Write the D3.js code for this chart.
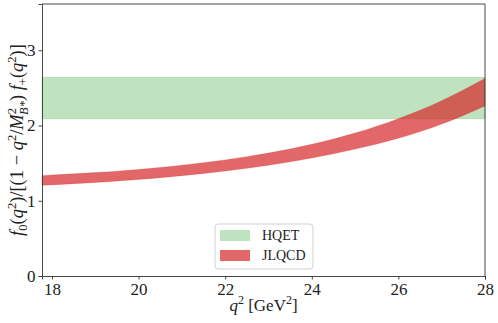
<!DOCTYPE html>
<html>
<head>
<meta charset="utf-8">
<script src="https://cdn.jsdelivr.net/npm/d3@7"></script>
<style>
  body { margin: 0; background: #fff; }
  svg text { font-family: "Liberation Serif", "DejaVu Serif", serif; fill: #222; }
</style>
</head>
<body>
<div id="chart"></div>
<script>
// q^2 sample points (GeV^2)
const q2 = [17.77, 19, 20, 21, 22, 23, 24, 25, 26, 27, 28];
// JLQCD band, upper and lower edges
const jlqcdUpper = [1.334, 1.374, 1.416, 1.472, 1.543, 1.634, 1.750, 1.899, 2.091, 2.329, 2.626];
const jlqcdLower = [1.206, 1.244, 1.284, 1.334, 1.395, 1.472, 1.568, 1.687, 1.831, 2.019, 2.260];
// HQET constant band
const hqet = [2.09, 2.64];

const xTicks = [18, 20, 22, 24, 26, 28];
const yTicks = [0, 1, 2, 3];

const width = 498,
      height = 323,
      margin = {top: 4, right: 13, bottom: 47, left: 42};

const chartWidth = width - margin.left - margin.right,
      chartHeight = height - margin.top - margin.bottom;

const svg = d3.select('#chart').append('svg')
    .attr('width', width)
    .attr('height', height);

const chart = svg.append('g')
    .attr('transform', `translate(${margin.left}, ${margin.top})`);

const x = d3.scaleLinear().domain([17.77, 28]).range([0, chartWidth]);
const y = d3.scaleLinear().domain([0, 3.615]).range([chartHeight, 0]);

// HQET band
chart.append('rect')
    .attr('x', x(17.77))
    .attr('width', x(28) - x(17.77))
    .attr('y', y(hqet[1]))
    .attr('height', y(hqet[0]) - y(hqet[1]))
    .attr('fill', '#2ca02c')
    .attr('fill-opacity', 0.3)
    .attr('stroke', '#2ca02c')
    .attr('stroke-opacity', 0.2)
    .attr('stroke-width', 1);

// JLQCD band
const band = q2.map((q, i) => ({q: q, lo: jlqcdLower[i], hi: jlqcdUpper[i]}));

const area = d3.area()
    .curve(d3.curveNatural)
    .x(d => x(d.q))
    .y0(d => y(d.lo))
    .y1(d => y(d.hi));

chart.append('path')
    .datum(band)
    .attr('d', area)
    .attr('fill', '#d62728')
    .attr('fill-opacity', 0.7)
    .attr('stroke', '#d62728')
    .attr('stroke-opacity', 0.25)
    .attr('stroke-width', 1);

// axes
const xAxis = d3.axisBottom(x)
    .tickValues(xTicks)
    .tickSize(3.5)
    .tickPadding(3)
    .tickFormat(d3.format('d'));

const yAxis = d3.axisLeft(y)
    .tickValues(yTicks)
    .tickSize(3.5)
    .tickPadding(3)
    .tickFormat(d3.format('d'));

function styleAxis(g) {
    g.attr('font-family', '"Liberation Serif", serif')
        .attr('font-size', 17);
    g.selectAll('path, line').attr('stroke', '#333').attr('stroke-width', 0.9);
    g.selectAll('text').attr('fill', '#222');
}

chart.append('g')
    .attr('transform', `translate(0, ${chartHeight})`)
    .call(xAxis)
    .call(styleAxis);

chart.append('g')
    .call(yAxis)
    .call(styleAxis);

// top and right spines
chart.append('line')
    .attr('x1', 0).attr('x2', chartWidth)
    .attr('y1', 0).attr('y2', 0)
    .attr('stroke', '#333').attr('stroke-width', 0.9);

chart.append('line')
    .attr('x1', chartWidth).attr('x2', chartWidth)
    .attr('y1', 0).attr('y2', chartHeight)
    .attr('stroke', '#333').attr('stroke-width', 0.9);

// x label
const xl = svg.append('text')
    .attr('x', margin.left + chartWidth / 2)
    .attr('y', 311)
    .attr('text-anchor', 'middle')
    .style('font-size', '17px');
xl.append('tspan').style('font-style', 'italic').text('q');
xl.append('tspan').attr('dy', -7).style('font-size', '12px').text('2');
xl.append('tspan').attr('dy', 7).text(' [GeV');
xl.append('tspan').attr('dy', -7).style('font-size', '12px').text('2');
xl.append('tspan').attr('dy', 7).text(']');

// y label
const yl = svg.append('text')
    .attr('transform', `translate(23, ${margin.top + chartHeight / 2}) rotate(-90)`)
    .attr('text-anchor', 'middle')
    .style('font-size', '18.5px');
const small = '12.5px';
const it = s => yl.append('tspan').style('font-style', 'italic').text(s);
const sup = s => yl.append('tspan').attr('dy', -7).style('font-size', small).text(s);
const down = s => yl.append('tspan').attr('dy', 7).text(s);
it('f');
yl.append('tspan').attr('dy', 4).style('font-size', small).text('0');
yl.append('tspan').attr('dy', -4).text('(');
it('q');
sup('2');
down(')/[(1 − ');
it('q');
sup('2');
down('/');
it('M');
sup('2');
yl.append('tspan').attr('dx', -7).attr('dy', 12).style('font-size', small).style('font-style', 'italic').text('B*');
yl.append('tspan').attr('dy', -5).text(') ');
it('f');
yl.append('tspan').attr('dy', 4).style('font-size', small).text('+');
yl.append('tspan').attr('dy', -4).text('(');
it('q');
sup('2');
down(')]');

// legend
const legend = chart.append('g')
    .attr('transform', 'translate(173, 220)');

legend.append('rect')
    .attr('width', 98)
    .attr('height', 45)
    .attr('rx', 3)
    .attr('fill', '#fff')
    .attr('fill-opacity', 0.8)
    .attr('stroke', '#ccc')
    .attr('stroke-width', 0.9);

const legendItems = [
    {name: 'HQET', color: '#2ca02c', opacity: 0.3},
    {name: 'JLQCD', color: '#d62728', opacity: 0.7}
];

legendItems.forEach((d, i) => {
    legend.append('rect')
        .attr('x', 5)
        .attr('y', 6 + i * 20)
        .attr('width', 30)
        .attr('height', 11)
        .attr('fill', d.color)
        .attr('fill-opacity', d.opacity);
    legend.append('text')
        .attr('x', 47)
        .attr('y', 16 + i * 20)
        .style('font-size', '14px')
        .text(d.name);
});
</script>
</body>
</html>
